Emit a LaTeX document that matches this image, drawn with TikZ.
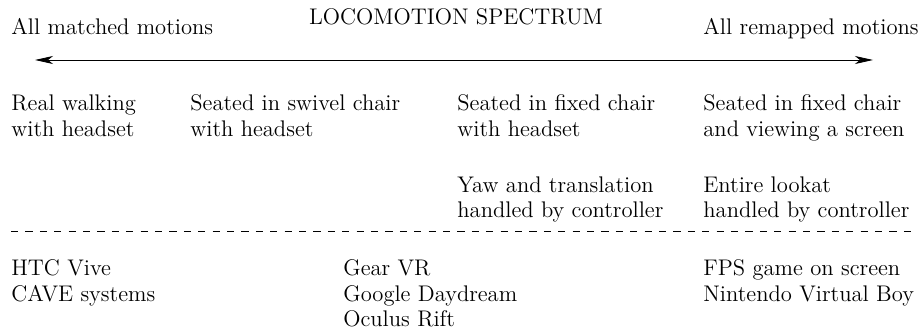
\documentclass[tikz,border=0pt]{standalone}
\usetikzlibrary{arrows.meta,positioning}

\begin{document}
\begin{tikzpicture}[x=0.5pt, y=-0.5pt,
    txt/.style={anchor=base west, align=left, inner sep=0pt,
                font=\fontsize{11.3}{12.75}\selectfont},
    arr/.style={{Stealth[length=9pt,width=4pt,inset=2.5pt]}-{Stealth[length=9pt,width=4pt,inset=2.5pt]}},
    sep/.style={dash pattern=on 3.6pt off 3.6pt},
]
\useasboundingbox (0,0) rectangle (922,331);

% --- Spectrum header ---
\node[txt] (matched) at (11,35) {All matched motions};
\node[txt, anchor=base] (title) at (456,25) {LOCOMOTION SPECTRUM};
\node[txt] (remapped) at (703,35) {All remapped motions};
\coordinate (lend) at (35,60);
\coordinate (rend) at (873,60);
\draw[arr] (lend) -- (rend);

% --- Setups (anchored at the baseline of the last line) ---
\node[txt] (walk) at (11,136.5) {Real walking\\with headset};
\node[txt] (swivel) at (190,136.5) {Seated in swivel chair\\with headset};
\node[txt] (fixed) at (457,136.5) {Seated in fixed chair\\with headset};
\node[txt] (screen) at (703,136.5) {Seated in fixed chair\\and viewing a screen};
\node[txt] (yaw) at (457,218) {Yaw and translation\\handled by controller};
\node[txt] (lookat) at (703,218) {Entire lookat\\handled by controller};

% --- Separator ---
\coordinate (sleft) at (11,231);
\coordinate (sright) at (917,231);
\draw[sep] (sleft) -- (sright);

% --- Examples ---
\node[txt] (vive) at (11,301.5) {HTC Vive\\CAVE systems};
\node[txt] (gear) at (343,327) {Gear VR\\Google Daydream\\Oculus Rift};
\node[txt] (fps) at (703,301.5) {FPS game on screen\\Nintendo Virtual Boy};

\end{tikzpicture}
\end{document}
